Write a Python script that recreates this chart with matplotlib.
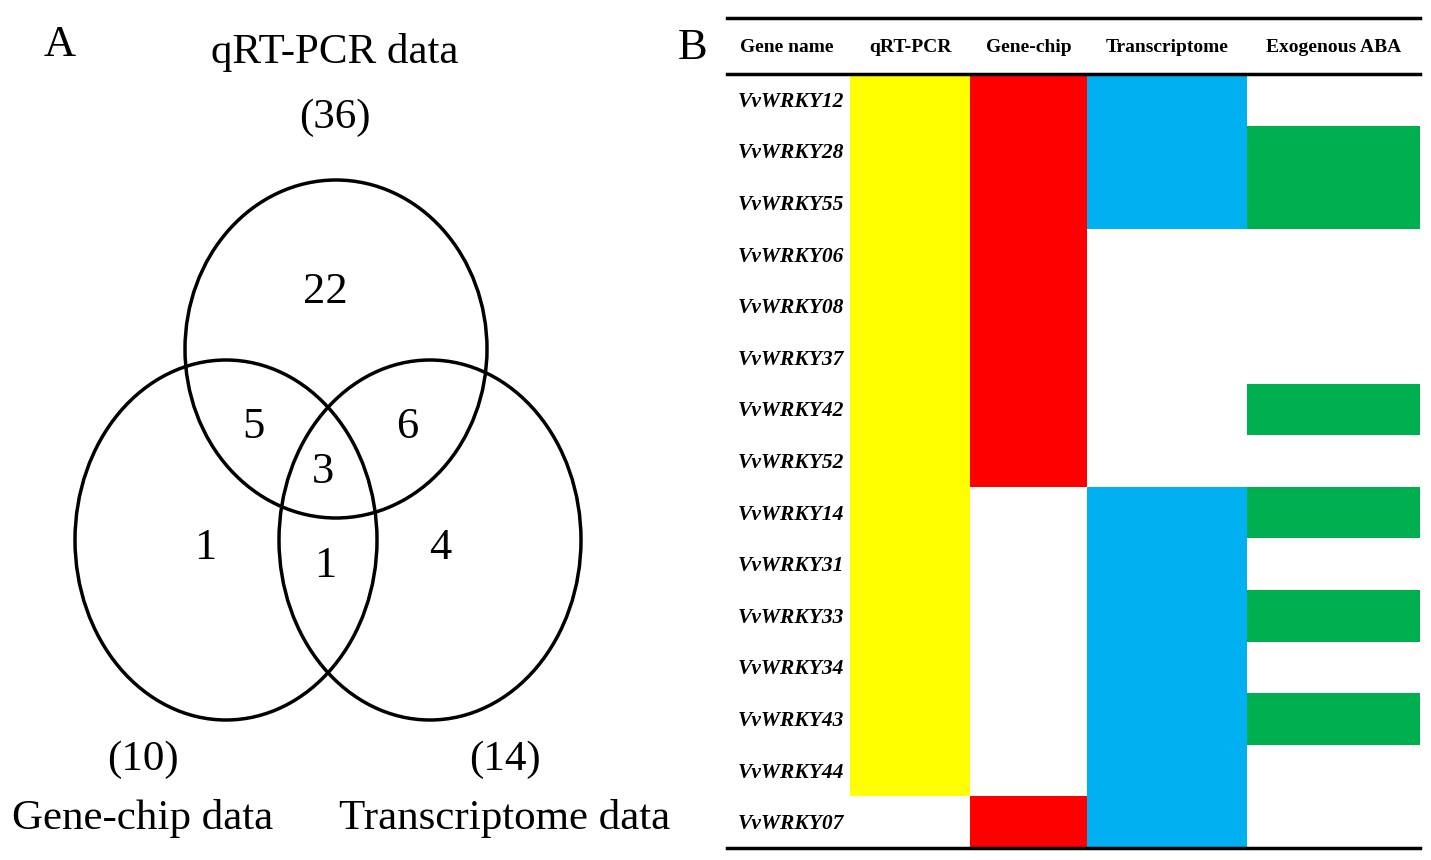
import matplotlib
matplotlib.use("Agg")
import matplotlib.pyplot as plt
from matplotlib.patches import Ellipse

plt.rcParams["font.family"] = ["Liberation Serif", "DejaVu Serif"]

# ── Data ──────────────────────────────────────────────────────────────────────
set_names = ["qRT-PCR data", "Gene-chip data", "Transcriptome data"]
set_totals = [36, 10, 14]
region_counts = {"q": 22, "qg": 5, "qt": 6, "qgt": 3, "g": 1, "gt": 1, "t": 4}

genes = ["VvWRKY12", "VvWRKY28", "VvWRKY55", "VvWRKY06", "VvWRKY08", "VvWRKY37",
         "VvWRKY42", "VvWRKY52", "VvWRKY14", "VvWRKY31", "VvWRKY33", "VvWRKY34",
         "VvWRKY43", "VvWRKY44", "VvWRKY07"]
columns = ["Gene name", "qRT-PCR", "Gene-chip", "Transcriptome", "Exogenous ABA"]
qrt = [1] * 14 + [0]
chip = [1] * 8 + [0] * 6 + [1]
trans = [1, 1, 1, 0, 0, 0, 0, 0, 1, 1, 1, 1, 1, 1, 1]
aba = [0, 1, 1, 0, 0, 0, 1, 0, 1, 0, 1, 0, 1, 0, 0]
col_colors = ["#FFFF00", "#FF0000", "#00B0F0", "#00B050"]

W, H = 1431, 860
fig = plt.figure(figsize=(W / 100, H / 100), dpi=100)

# ── Panel A: Venn (pixel coords) ──────────────────────────────────────────────
ax = fig.add_axes([0, 0, 720 / W, 1])
ax.set_xlim(0, 720)
ax.set_ylim(H, 0)
ax.axis("off")
for cx, cy, w, h in [(336, 349, 302, 338), (226, 540, 302, 360), (430, 540, 302, 360)]:
    ax.add_patch(Ellipse((cx, cy), w, h, fill=False, lw=2.5, ec="black"))
pos = {"q": (325, 292), "qg": (253, 427), "qt": (407, 427), "qgt": (323, 472),
       "g": (205, 548), "gt": (325, 566), "t": (440, 548)}
for k, (x, y) in pos.items():
    ax.text(x, y, str(region_counts[k]), fontsize=32, ha="center", va="center")
ax.text(60, 45, "A", fontsize=32, ha="center", va="center")
fs = 31
ax.text(335, 52, set_names[0], fontsize=fs, ha="center", va="center")
ax.text(335, 118, f"({set_totals[0]})", fontsize=fs, ha="center", va="center")
ax.text(143, 760, f"({set_totals[1]})", fontsize=fs, ha="center", va="center")
ax.text(143, 818, set_names[1], fontsize=fs, ha="center", va="center")
ax.text(505, 760, f"({set_totals[2]})", fontsize=fs, ha="center", va="center")
ax.text(505, 818, set_names[2], fontsize=fs, ha="center", va="center")

# ── Panel B: table ────────────────────────────────────────────────────────────
ax.text(693, 48, "B", fontsize=32, ha="center", va="center")
bx = fig.add_axes([0, 0, 1, 1])
bx.set_xlim(0, W)
bx.set_ylim(H, 0)
bx.axis("off")
edges = [727, 850, 970, 1087, 1247, 1420]
top, head, row_h = 18, 74, (848 - 74) / 15
for ci, vals in enumerate([qrt, chip, trans, aba]):
    x0, x1 = edges[ci + 1], edges[ci + 2]
    for ri, v in enumerate(vals):
        if v:
            bx.bar(x0, row_h, width=x1 - x0, bottom=head + ri * row_h,
                   align="edge", color=col_colors[ci], lw=0)
for i, c in enumerate(columns):
    xc = (edges[i] + edges[i + 1]) / 2 + (-2 if i == 0 else 0)
    bx.text(xc, 47, c, fontsize=14, fontweight="bold", ha="center", va="center")
for ri, g in enumerate(genes):
    bx.text(738, head + (ri + 0.5) * row_h + 2, g, fontsize=15.5, fontweight="bold",
            style="italic", ha="left", va="center")
for y in [top, head, 848]:
    bx.plot([edges[0], edges[-1]], [y, y], color="black", lw=2.5)

fig.savefig("out.png", dpi=100)
